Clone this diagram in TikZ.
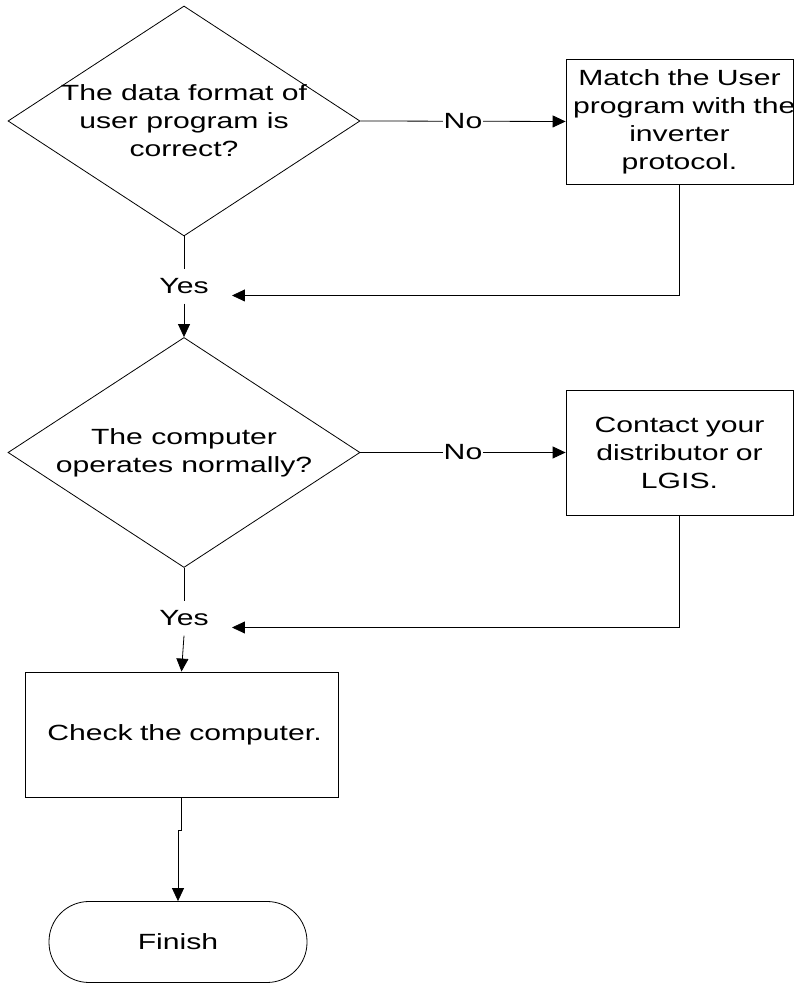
\documentclass[tikz,border=0pt]{standalone}
\usepackage{fontspec}
\setmainfont{Liberation Sans}[FakeStretch=1.37]
\usetikzlibrary{shapes.geometric,arrows.meta}
\tikzset{
  decision/.style={draw,diamond,inner sep=0pt,minimum width=352pt,minimum height=230pt},
  qtext/.style={align=center},
  stepbox/.style={draw,rectangle,inner xsep=7pt,inner ysep=0pt,minimum width=227pt,minimum height=125pt,text width=213pt,align=center},
  terminal/.style={draw,rounded corners=40pt,minimum width=258pt,minimum height=81pt},
  answer/.style={inner xsep=23pt,inner ysep=9pt},
  flow/.style={-{Triangle[length=13pt,width=12pt]}}
}
\begin{document}
\begin{tikzpicture}[x=1pt,y=1pt,line width=0.8pt,font=\fontsize{22}{28}\selectfont]
\useasboundingbox (0,0) rectangle (801,984);
% first check
\node[decision,label={[qtext]center:The data format of\\user program is\\correct?}] (fmt) at (184,863) {};
\node[stepbox] (match) at (679.5,862.5) {Match the User\\\mbox{program with the}\\inverter\\protocol.};
\draw[flow] (fmt.east) -- node[fill=white,inner sep=1pt] (no1) {No} (match.west);
\node[answer] (yes1) at (184,697.5) {Yes};
\draw (fmt.south) -- (yes1.north);
\draw[flow] (match.south) |- ([yshift=-9pt]yes1.east);
% second check
\node[decision,label={[qtext]center:The computer\\operates normally?}] (oper) at (184,531.5) {};
\node[stepbox] (contact) at (679.5,531.5) {Contact your\\distributor or\\LGIS.};
\draw[flow] (yes1.south) -- (oper.north);
\draw[flow] (oper.east) -- node[fill=white,inner sep=1pt] (no2) {No} (contact.west);
\node[answer] (yes2) at (184,365.5) {Yes};
\draw (oper.south) -- (yes2.north);
\draw[flow] (contact.south) |- ([yshift=-9pt]yes2.east);
% end
\node[stepbox,minimum width=313pt,text width=299pt] (check) at (181.5,249.5) {\hspace*{6pt}Check the computer.};
\draw[flow] (yes2.south) -- (check.north);
\node[terminal] (finish) at (178,42) {Finish};
\draw[flow] (check.south) -- ++(0,-33) -| (finish.north);
\end{tikzpicture}
\end{document}
